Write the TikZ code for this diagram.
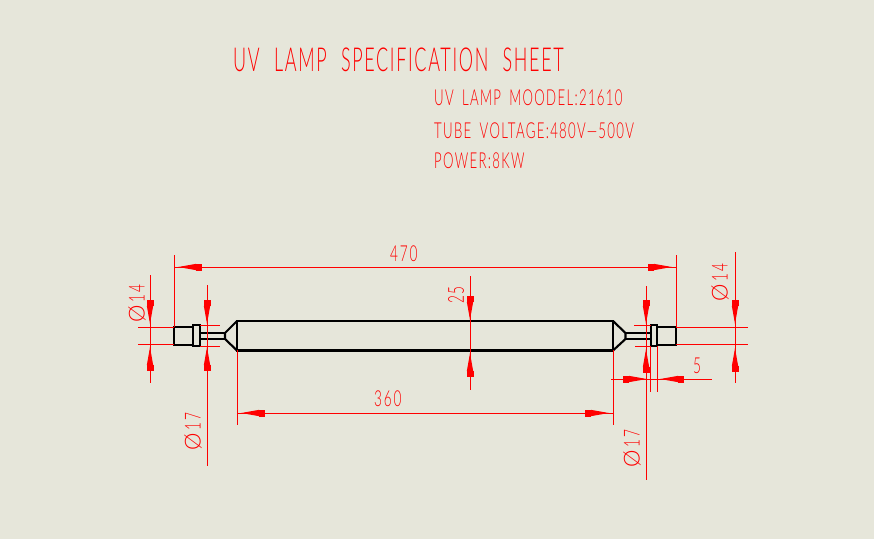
\documentclass[tikz,border=0pt]{standalone}
\usepackage{fontspec}
\setmainfont[FakeStretch=0.62,LetterSpace=8]{Lato Light}
\newfontfamily\wideface{Lato Light}
\newfontfamily\titleface[FakeStretch=0.545,LetterSpace=5,WordSpace=2.2]{Lato Light}
\newfontfamily\headface[FakeStretch=0.6,LetterSpace=6,WordSpace=1.7]{Lato Light}
\usepackage{xcolor}
\usetikzlibrary{arrows.meta}
\definecolor{sheetbg}{HTML}{E6E6DA}
\newcommand{\dia}{{\wideface\char"00D8}\kern3pt}
\tikzset{
   lamp/.style={draw=black,line width=2.1pt,line join=miter},
   dimline/.style={draw=red,line width=1pt},
   dimtip/.style={draw=red,line width=1pt,
      -{Rectangle[length=6pt,width=7pt,sep=0pt]Triangle[length=18pt,width=6pt]}},
   sheettext/.style={text=red,inner sep=0pt,anchor=west,font=\fontsize{22}{22}\selectfont},
   headtext/.style={sheettext,font=\headface\fontsize{22}{22}\selectfont},
   titletext/.style={sheettext,font=\titleface\fontsize{33}{33}\selectfont}
}
\begin{document}
\begin{tikzpicture}[x=1pt,y=-1pt]
\fill[sheetbg] (0,0) rectangle (874,539);
\useasboundingbox (0,0) rectangle (874,539);
% texts
\node[titletext] (title) at (233,60) {UV LAMP SPECIFICATION SHEET};
\node[headtext] (model) at (434,98) {UV LAMP MOODEL:21610};
\node[headtext] (volt) at (434,131) {TUBE VOLTAGE:480V—500V};
\node[headtext] (power) at (434,161) {POWER:8KW};
% lamp
\draw[lamp] (237,321) rectangle (613,350.5);
\draw[lamp] (237,321) -- (225,333) -- (225,339) -- (237,350.5);
\draw[lamp] (613,321) -- (625.5,333) -- (625.5,339) -- (613,350.5);
\draw[lamp] (225,333) -- (200,333) (225,339) -- (200,339);
\draw[lamp] (625.5,333) -- (651,333) (625.5,339) -- (651,339);
\draw[lamp] (193,325) rectangle (200,346);
\draw[lamp] (651,325) rectangle (657,346);
\draw[lamp] (193,327) -- (174,327) -- (174,345) -- (193,345);
\draw[lamp] (657,327) -- (676,327) -- (676,345) -- (657,345);
% 470
\draw[dimline] (174,255) -- (174,327) (676,255) -- (676,327) (174,267) -- (676,267);
\draw[dimtip] (201,267) -- (178,267);
\draw[dimtip] (650,267) -- (672,267);
\node[sheettext] (len470) at (390,254) {470};
% 360
\draw[dimline] (237,350) -- (237,425) (613,350) -- (613,425) (237,413) -- (613,413);
\draw[dimtip] (263,413) -- (241,413);
\draw[dimtip] (588,413) -- (609,413);
\node[sheettext] (len360) at (374,399) {360};
% 25
\draw[dimline] (470,276) -- (470,390);
\draw[dimtip] (470,295) -- (470,320);
\draw[dimtip] (470,377) -- (470,353);
\node[sheettext,rotate=90] (dia25) at (456,304) {25};
% left 14
\draw[dimline] (150,275) -- (150,383) (138,327) -- (174,327) (138,344.5) -- (174,344.5);
\draw[dimtip] (150,301) -- (150,324);
\draw[dimtip] (150,371) -- (150,347);
\node[sheettext,rotate=90] (diaa) at (137,323) {\dia14};
% left 17
\draw[dimline] (207,285) -- (207,466) (200,325.5) -- (220,325.5) (200,346.5) -- (220,346.5);
\draw[dimtip] (207,299) -- (207,324);
\draw[dimtip] (207,373) -- (207,347);
\node[sheettext,rotate=90] (diab) at (193,451) {\dia17};
% right 17
\draw[dimline] (646,286) -- (646,480) (634,325.5) -- (651,325.5) (635,346.5) -- (651,346.5);
\draw[dimtip] (646,299) -- (646,324);
\draw[dimtip] (646,373) -- (646,349);
\node[sheettext,rotate=90] (diac) at (632,468) {\dia17};
% right 14
\draw[dimline] (735,252) -- (735,383) (676,327) -- (748,327) (676,344.5) -- (748,344.5);
\draw[dimtip] (735,301) -- (735,324);
\draw[dimtip] (735,371) -- (735,348);
\node[sheettext,rotate=90] (diad) at (720,302) {\dia14};
% 5
\draw[dimline] (611,379) -- (712,379) (650,346) -- (650,392) (657,346) -- (657,392);
\draw[dimtip] (625,379) -- (647,379);
\draw[dimtip] (683,379) -- (660,379);
\node[sheettext] (gap5) at (693,366) {5};
\end{tikzpicture}
\end{document}
